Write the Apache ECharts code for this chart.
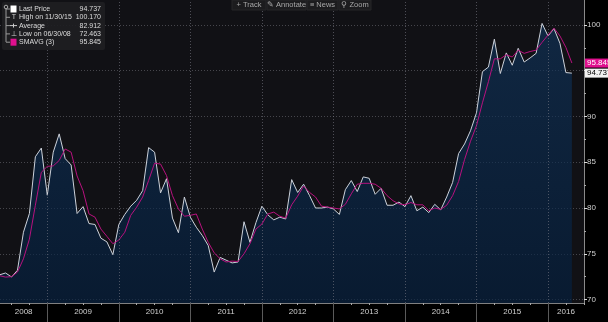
<!DOCTYPE html>
<html><head><meta charset="utf-8">
<script src="https://cdn.jsdelivr.net/npm/echarts@6/dist/echarts.min.js"></script>
<style>html,body{margin:0;padding:0;background:#000;overflow:hidden}#c{width:608px;height:322px}</style>
</head><body><div id="c"></div>
<script>
// first point is the month-end of April 2008, one point per month
const startYear = 2008, startMonth = 4;
const price = [
 72.7, 72.9, 72.463, 73.2, 77.35, 79.4, 85.6, 86.55, 81.4,
 86.1, 88.1, 85.4, 84.7, 79.4, 80.15, 78.3, 78.2, 76.7, 76.3, 74.9, 78.2,
 79.3, 80.2, 80.85, 81.9, 86.6, 86.1, 81.65, 83.2, 78.9, 77.3, 81.2, 79.0,
 77.9, 77.0, 75.9, 73.0, 74.6, 74.3, 74.0, 74.1, 78.5, 76.25, 78.4, 80.2,
 79.25, 78.7, 79.0, 78.8, 83.1, 81.7, 82.6, 81.35, 80.0, 80.0, 80.1, 79.9,
 79.3, 82.0, 83.0, 81.8, 83.4, 83.25, 81.5, 82.15, 80.3, 80.3, 80.65, 80.15,
 81.35, 79.7, 80.1, 79.5, 80.4, 79.8, 81.2, 82.8, 85.95, 87.0, 88.45, 90.4,
 94.9, 95.4, 98.45, 94.7, 96.95, 95.6, 97.45, 95.95, 96.4, 96.9, 100.17, 98.8,
 99.6, 98.0, 94.8, 94.737
];
const smavg = [
 72.6, 72.45, 72.5, 73.0, 74.45, 76.6, 80.3, 83.9, 84.55,
 84.6, 85.2, 86.45, 86.1, 83.5, 81.9, 79.35, 79.0, 77.7, 76.9, 76.1, 76.5,
 77.35, 79.2, 80.1, 81.2, 83.0, 84.9, 84.8, 83.55, 81.35, 79.9, 79.1, 79.2,
 79.35, 77.7, 76.25, 75.1, 74.45, 74.1, 74.2, 74.15, 75.0, 76.1, 77.7, 78.25,
 79.35, 79.55, 79.1, 78.9, 80.35, 81.3, 82.4, 81.7, 81.2, 80.2, 80.1, 80.0,
 79.9, 80.4, 81.55, 82.6, 82.7, 82.7, 82.6, 82.15, 81.35, 80.8, 80.45, 80.35,
 80.6, 80.35, 80.35, 79.7, 80.0, 79.85, 80.3, 81.35, 82.9, 85.3, 87.3, 89.0,
 91.5, 93.8, 96.3, 96.3, 96.75, 96.5, 97.25, 96.9, 97.1, 97.25, 98.1, 98.9,
 99.65, 98.8, 97.55, 95.845
];
const yearLabels = ['2008','2009','2010','2011','2012','2013','2014','2015','2016'];
const yTickValues = [70, 75, 80, 85, 90, 95, 100];
const yTickLabels = [70, 75, 80, 85, 90, 100];
const legendRows = [
 ['Last Price', '94.737'],
 ['High on 11/30/15', '100.170'],
 ['Average', '82.912'],
 ['Low on 06/30/08', '72.463'],
 ['SMAVG (3)', '95.845']
];
const toolbarItems = ['+ Track', '\u270E Annotate', '\u2261 News', '\u26B2 Zoom'];

// ---- build ----
const xs = price.map((_, i) => startYear + (startMonth + i) / 12);
const priceData = price.map((v, i) => [xs[i], v]);
const smaData = smavg.map((v, i) => [xs[i], v]);
const years = yearLabels.map(Number);
const xMin = 2008.339, xMax = 2016.503;
const yearBounds = years.slice(1);
const labelCenters = years.map(y => {
  const a = Math.max(y, xMin), b = Math.min(y + 1, xMax);
  return (a + b) / 2;
});
const quarterTicks = [];
years.forEach(y => [0.25, 0.5, 0.75].forEach(q => { if (y + q > xMin && y + q < xMax) quarterTicks.push(y + q); }));
const yMinor = yTickValues.slice(0, -1).map(v => v + 2.5);
const lastP = price[price.length - 1], lastS = smavg[smavg.length - 1];

const chart = echarts.init(document.getElementById('c'), null, {renderer: 'canvas'});
const font = 'Arial, "Liberation Sans", sans-serif';

// legend graphic
const lg = [];
lg.push({type: 'rect', shape: {x: 2, y: 2, width: 103, height: 48, r: 2}, style: {fill: 'rgba(30,30,34,0.92)'}});
lg.push({type: 'line', shape: {x1: 6, y1: 9, x2: 6, y2: 42}, style: {stroke: '#999', lineWidth: 1}});
lg.push({type: 'circle', shape: {cx: 6, cy: 7, r: 1.8}, style: {fill: 'none', stroke: '#aaa', lineWidth: 1}});
const rowY = [9, 17.3, 25.6, 33.9, 42.2];
rowY.forEach((ry, i) => {
  lg.push({type: 'line', shape: {x1: 6, y1: ry, x2: 10, y2: ry}, style: {stroke: '#999', lineWidth: 1}});
  lg.push({type: 'text', style: {x: 19, y: ry, text: legendRows[i][0], fill: '#dcdcdc', font: '7px ' + font, textVerticalAlign: 'middle'}});
  lg.push({type: 'text', style: {x: 101, y: ry, text: legendRows[i][1], fill: '#dcdcdc', font: '7px ' + font, textAlign: 'right', textVerticalAlign: 'middle'}});
});
lg.push({type: 'rect', shape: {x: 10.5, y: 5.5, width: 6, height: 7}, style: {fill: '#fff'}});
lg.push({type: 'text', style: {x: 14, y: rowY[1], text: 'T', fill: '#ccc', font: '7px ' + font, textAlign: 'center', textVerticalAlign: 'middle'}});
lg.push({type: 'line', shape: {x1: 10, y1: rowY[2], x2: 17, y2: rowY[2]}, style: {stroke: '#ccc', lineWidth: 1}});
lg.push({type: 'line', shape: {x1: 13.5, y1: rowY[2] - 2, x2: 13.5, y2: rowY[2] + 2}, style: {stroke: '#ccc', lineWidth: 1}});
lg.push({type: 'text', style: {x: 14, y: rowY[3], text: '\u22A5', fill: '#ccc', font: '7px ' + font, textAlign: 'center', textVerticalAlign: 'middle'}});
lg.push({type: 'rect', shape: {x: 10.5, y: rowY[4] - 3.5, width: 6, height: 7}, style: {fill: '#e0108e'}});

// toolbar
const tbX = [232, 267, 307, 339, 372];
toolbarItems.forEach((t, i) => {
  lg.push({type: 'rect', shape: {x: tbX[i], y: 0, width: tbX[i + 1] - tbX[i] - 1, height: 10}, style: {fill: '#1c1c1e', stroke: '#262628', lineWidth: 1}});
  lg.push({type: 'text', style: {x: (tbX[i] + tbX[i + 1] - 1) / 2, y: 5, text: t, fill: '#a8a8a8', font: '7.5px ' + font, textAlign: 'center', textVerticalAlign: 'middle'}});
});

const endLabel = (val, bg, fg) => ({
  yAxis: val, lineStyle: {color: 'rgba(0,0,0,0)', width: 0},
  label: {show: true, position: 'end', distance: 1, formatter: val.toFixed(3), color: fg,
    backgroundColor: bg, padding: [1, 2, 0, 2], fontSize: 8, fontFamily: font}
});

const option = {
  backgroundColor: '#000',
  animation: false,
  grid: {left: 0, right: 24, top: 0, bottom: 19, show: true, backgroundColor: '#111115', borderWidth: 0},
  xAxis: [{
    type: 'value', min: xMin, max: xMax,
    axisLine: {show: true, lineStyle: {color: '#808080', width: 1}},
    axisTick: {show: true, customValues: yearBounds, length: 19, lineStyle: {color: '#5a5a5a'}},
    axisLabel: {show: true, customValues: labelCenters, color: '#cfcfcf', fontSize: 8, fontFamily: font, margin: 5,
      formatter: v => yearLabels[Math.floor(v) - years[0]]},
    splitLine: {show: false}
  }, {
    type: 'value', min: xMin, max: xMax, position: 'bottom',
    axisLine: {show: false},
    axisTick: {show: true, customValues: quarterTicks, length: 2, lineStyle: {color: '#aaa'}},
    axisLabel: {show: false}, splitLine: {show: false}
  }],
  yAxis: [{
    type: 'value', position: 'right', min: 69.62, max: 102.73,
    axisLine: {show: true, lineStyle: {color: '#8a8a8a'}},
    axisTick: {show: true, customValues: yTickValues, length: 3, lineStyle: {color: '#ddd'}},
    axisLabel: {show: true, customValues: yTickLabels, color: '#cfcfcf', fontSize: 8, fontFamily: font, margin: 3},
    splitLine: {show: true, lineStyle: {color: '#46464c', type: [1, 2], width: 1}}
  }, {
    type: 'value', position: 'right', min: 69.62, max: 102.73,
    axisLine: {show: false},
    axisTick: {show: true, customValues: yMinor, length: 2, lineStyle: {color: '#aaa'}},
    axisLabel: {show: false}, splitLine: {show: false}
  }],
  graphic: lg.map(e => Object.assign({z: 100}, e)),
  series: [{
    type: 'line', name: 'Last Price', data: priceData, showSymbol: false, symbol: 'none',
    lineStyle: {color: '#cdd2da', width: 1}, z: 3,
    areaStyle: {origin: 'start', color: new echarts.graphic.LinearGradient(0, 0, 0, 1, [
      {offset: 0, color: 'rgba(16,52,92,0.9)'}, {offset: 1, color: 'rgba(4,32,64,0.92)'}])},
    markLine: {
      silent: true, symbol: 'none', animation: false, z: 10,
      data: yearBounds.map(y => ({xAxis: y, lineStyle: {color: 'rgba(130,130,140,0.55)', type: [1, 2], width: 1}, label: {show: false}}))
        .concat([endLabel(lastP, '#f2f2f2', '#000')])
    }
  }, {
    type: 'line', name: 'SMAVG (3)', data: smaData, showSymbol: false, symbol: 'none',
    lineStyle: {color: '#b8127f', width: 1}, z: 4,
    markLine: {
      silent: true, symbol: 'none', animation: false, z: 10,
      data: [endLabel(lastS, '#e0108e', '#fff')]
    }
  }]
};
chart.setOption(option);
</script>
</body></html>
